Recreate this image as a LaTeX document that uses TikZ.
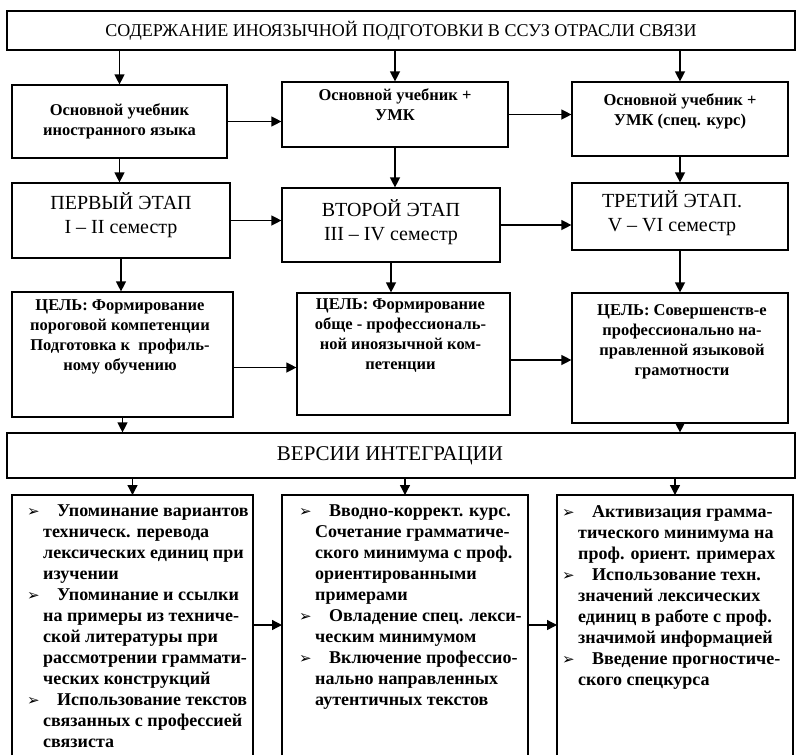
\documentclass[tikz,border=0pt]{standalone}
\usepackage{fontspec}
\setmainfont{Liberation Serif}
\newfontfamily\dingfont{DejaVu Sans}
\usepackage{tikz}
\usetikzlibrary{arrows.meta, positioning}

\newcommand{\itm}{\llap{\makebox[16pt][l]{\dingfont\fontsize{15}{15}\selectfont ➢}}\hspace{14pt}}

\begin{document}
\begin{tikzpicture}[
  x=1pt, y=-1pt,
  blk/.style={draw, line width=1.2pt, inner sep=0pt},
  openblk/.style={inner sep=0pt, outer sep=0pt},
  txt/.style={font=\fontsize{16.5}{20}\selectfont\bfseries, align=center, inner sep=0pt},
  stg/.style={font=\fontsize{20}{24}\selectfont, align=center, inner sep=0pt},
  lst/.style={font=\fontsize{18}{21}\selectfont\bfseries, align=left, inner sep=0pt, anchor=north west},
  hdr/.style={blk, font=\fontsize{18}{22}\selectfont},
  arr/.style={-{Triangle[length=10pt, width=10pt]}, line width=1.3pt},
]
\useasboundingbox (0,0) rectangle (797,755);

% Title
\node[hdr, minimum width=788, minimum height=39] (title) at (401,30.5) {СОДЕРЖАНИЕ ИНОЯЗЫЧНОЙ ПОДГОТОВКИ В ССУЗ ОТРАСЛИ СВЯЗИ};

% Textbooks
\node[blk, minimum width=215, minimum height=73] (uch1) at (119.5,121.5) {};
\node[blk, minimum width=226, minimum height=65] (uch2) at (395,114.5) {};
\node[blk, minimum width=216, minimum height=74] (uch3) at (680,119) {};
\node[txt] (uch1t) at (uch1) {Основной учебник\\иностранного языка};
\node[txt] (uch2t) at ([yshift=10]uch2.center) {Основной учебник +\\УМК};
\node[txt] (uch3t) at ([yshift=8]uch3.center) {Основной учебник +\\УМК (спец. курс)};

% Stages
\node[blk, minimum width=218, minimum height=75] (et1) at (121,220.5) {};
\node[blk, minimum width=218, minimum height=74] (et2) at (391,225) {};
\node[blk, minimum width=216, minimum height=67] (et3) at (680,216.5) {};
\node[stg] (et1t) at ([yshift=5.5]et1.center) {ПЕРВЫЙ ЭТАП\\I – II семестр};
\node[stg] (et2t) at ([yshift=2.5]et2.center) {ВТОРОЙ ЭТАП\\III – IV семестр};
\node[stg] (et3t) at ([xshift=-8, yshift=3]et3.center) {ТРЕТИЙ ЭТАП.\\V – VI семестр};

% Goals
\node[blk, minimum width=221, minimum height=125] (cel1) at (122.5,354.5) {};
\node[blk, minimum width=213, minimum height=122] (cel2) at (403.5,354) {};
\node[blk, minimum width=216, minimum height=130] (cel3) at (680,358) {};
\node[txt] (cel1t) at ([xshift=-2.5, yshift=17.5]cel1.center) {ЦЕЛЬ: Формирование\\пороговой компетенции\\Подготовка к~~профиль-\\ному обучению};
\node[txt] (cel2t) at ([xshift=-3, yshift=18]cel2.center) {ЦЕЛЬ: Формирование\\обще - профессиональ-\\ной иноязычной ком-\\петенции};
\node[txt] (cel3t) at ([xshift=2, yshift=16.5]cel3.center) {ЦЕЛЬ: Совершенств-е\\профессионально на-\\правленной языковой\\грамотности};

% Integration
\node[blk, minimum width=788, minimum height=45] (vers) at (401,455.5) {};
\node[font=\fontsize{21}{25}\selectfont, inner sep=0pt] (verst) at ([xshift=-11]vers.center) {ВЕРСИИ ИНТЕГРАЦИИ};

% Versions (open at the bottom)
\node[openblk, minimum width=241, minimum height=260] (ver1) at (132.5,625) {};
\node[openblk, minimum width=246, minimum height=260] (ver2) at (405,625) {};
\node[openblk, minimum width=236, minimum height=260] (ver3) at (675,625) {};
\foreach \b in {ver1,ver2,ver3}
  \draw[line width=1.2pt] (\b.south west) |- (\b.north east) -- (\b.south east);

\node[lst] (ver1t) at ([xshift=31, yshift=-10]ver1.north west) {%
\itm Упоминание вариантов\\
техническ. перевода\\
лексических единиц при\\
изучении\\
\itm Упоминание и ссылки\\
на примеры из техниче-\\
ской литературы при\\
рассмотрении граммати-\\
ческих конструкций\\
\itm Использование текстов\\
связанных с профессией\\
связиста};
\node[lst] (ver2t) at ([xshift=33, yshift=-10]ver2.north west) {%
\itm Вводно-коррект. курс.\\
Сочетание грамматиче-\\
ского минимума с проф.\\
ориентированными\\
примерами\\
\itm Овладение спец. лекси-\\
ческим минимумом\\
\itm Включение профессио-\\
нально направленных\\
аутентичных текстов};
\node[lst] (ver3t) at ([xshift=21, yshift=-10]ver3.north west) {%
\itm Активизация грамма-\\
тического минимума на\\
проф. ориент. примерах\\
\itm Использование техн.\\
значений лексических\\
единиц в работе с проф.\\
значимой информацией\\
\itm Введение прогностиче-\\
ского спецкурса};

% Arrows down
\draw[arr] (title.south -| uch1.north) -- (uch1.north);
\draw[arr] (title.south -| uch2.north) -- (uch2.north);
\draw[arr] (title.south -| uch3.north) -- (uch3.north);
\draw[arr] (uch1.south) -- (uch1.south |- et1.north);
\draw[arr] (uch2.south) -- (uch2.south |- et2.north);
\draw[arr] (uch3.south) -- (uch3.south |- et3.north);
\draw[arr] (et1.south) -- (et1.south |- cel1.north);
\draw[arr] (et2.south) -- (et2.south |- cel2.north);
\draw[arr] (et3.south) -- (et3.south |- cel3.north);
\draw[arr] (cel1.south) -- (cel1.south |- vers.north);
\draw[arr] (cel3.south) -- (cel3.south |- vers.north);
\draw[arr] (vers.south -| ver1.north) -- (ver1.north);
\draw[arr] (vers.south -| ver2.north) -- (ver2.north);
\draw[arr] (vers.south -| ver3.north) -- (ver3.north);

% Arrows across
\draw[arr] (uch1.east) -- (uch1.east -| uch2.west);
\draw[arr] (uch2.east) -- (uch2.east -| uch3.west);
\draw[arr] (et1.east) -- (et1.east -| et2.west);
\draw[arr] (et2.east) -- (et2.east -| et3.west);
\draw[arr] ([yshift=-13]cel1.east) -- ([yshift=-13]cel1.east -| cel2.west);
\draw[arr] ([yshift=-6]cel2.east) -- ([yshift=-6]cel2.east -| cel3.west);
\draw[arr] (ver1.east) -- (ver1.east -| ver2.west);
\draw[arr] (ver2.east) -- (ver2.east -| ver3.west);

\end{tikzpicture}
\end{document}
